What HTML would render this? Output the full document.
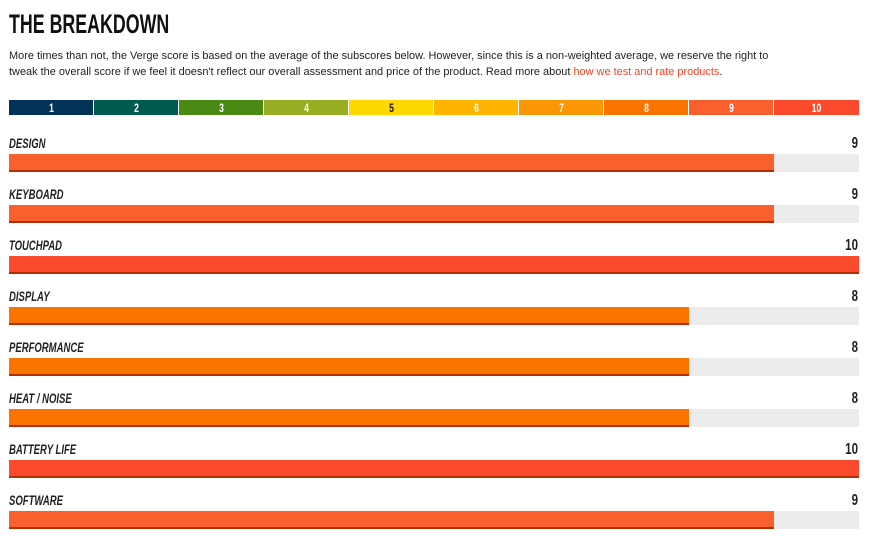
<!DOCTYPE html>
<html><head><meta charset="utf-8"><style>
body{margin:0;background:#fff;width:881px;height:545px;overflow:hidden;font-family:"Liberation Sans",sans-serif;}
#desc{position:absolute;left:9px;top:48px;font-size:10.95px;line-height:16px;color:#222;white-space:nowrap;}
#desc a{color:#f2452a;text-decoration:none;}
svg{position:absolute;left:0;top:0;}
</style></head><body>
<svg id="chart" width="881" height="545">
  <g transform="translate(9,33) scale(0.66,1)"><text x="0" y="0" font-family="Liberation Sans" font-weight="bold" font-size="27" fill="#111">THE BREAKDOWN</text></g>
</svg>
<div id="desc">More times than not, the Verge score is based on the average of the subscores below. However, since this is a non-weighted average, we reserve the right to<br>tweak the overall score if we feel it doesn't reflect our overall assessment and price of the product. Read more about <a href="#">how we test and rate products</a>.</div>
<script>
const categories=["DESIGN","KEYBOARD","TOUCHPAD","DISPLAY","PERFORMANCE","HEAT / NOISE","BATTERY LIFE","SOFTWARE"];
const scores=[9,9,10,8,8,8,10,9];
const scaleTicks=[1,2,3,4,5,6,7,8,9,10];
const scaleColors=["#003356","#005a4f","#4a8a14","#97ae23","#ffd800","#ffb400","#fb9705","#fb7300","#fa602d","#fc4a2c"];
const NS="http://www.w3.org/2000/svg";
const svg=document.getElementById("chart");
const X0=9,X1=859,MAX=10;
function x(v){return X0+(X1-X0)*v/MAX;}
function mk(t,a,p){const e=document.createElementNS(NS,t);for(const k in a)e.setAttribute(k,a[k]);(p||svg).appendChild(e);return e;}
scaleTicks.forEach((t,i)=>{
  const r=mk("rect",{x:x(t-1),y:100,width:x(t)-x(t-1)-(i<9?1:0),height:15,fill:scaleColors[i]});
  
  
  const g=mk("g",{transform:"translate("+((x(t-1)+x(t))/2)+",112) scale(0.75,1)"});
  const tx=mk("text",{x:0,y:0,"text-anchor":"middle","font-size":"11.5","font-weight":"bold",fill:t==5?"#111":"#fff"},g);
  
  
  tx.textContent=t;
});
function colorFor(v){return scaleColors[Math.max(0,Math.min(9,Math.round(v)-1))];}
categories.forEach((c,i)=>{
  const top=154+51*i;
  const g=mk("g",{transform:"translate(9,"+(top-6)+") scale(0.68,1)"});
  const lb=mk("text",{x:0,y:0,"font-size":"14","font-weight":"bold","font-style":"italic",fill:"#222"},g);
  
  
  lb.textContent=c;
  const g2=mk("g",{transform:"translate(858,"+(top-6)+") scale(0.72,1)"});
  const sv=mk("text",{x:0,y:0,"text-anchor":"end","font-size":"16","font-weight":"bold",fill:"#222"},g2);
  
  
  sv.textContent=scores[i];
  const bg=mk("rect",{x:X0,y:top,width:X1-X0,height:18,fill:"#ececec"});
  
  
  const b=mk("rect",{x:X0,y:top,width:x(scores[i])-X0,height:16,fill:colorFor(scores[i])});
  
  
  const s=mk("rect",{x:X0,y:top+16,width:x(scores[i])-X0,height:2,fill:"#b33000"});
  
  
});
</script>
</body></html>
